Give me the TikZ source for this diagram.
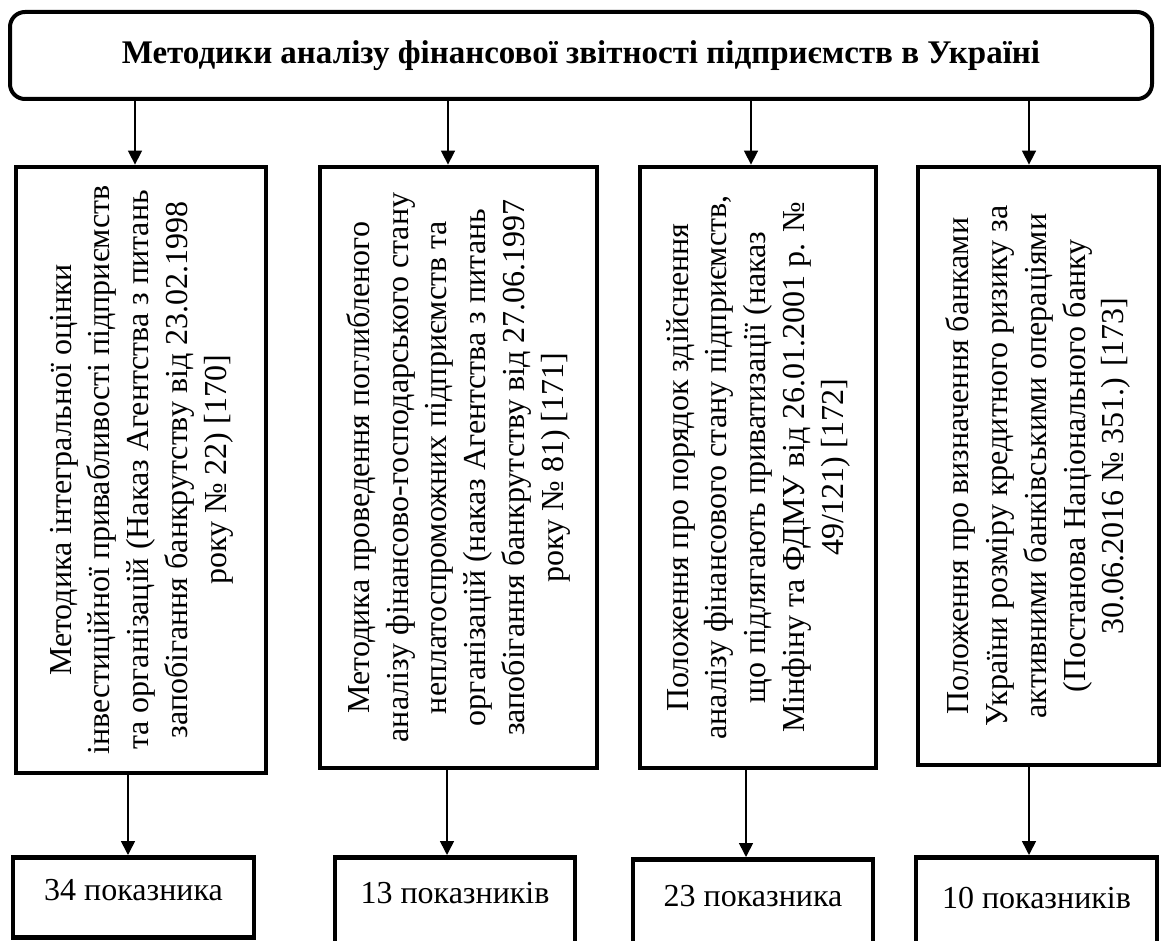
\documentclass[tikz,border=0pt]{standalone}
\usepackage{fontspec}
\setmainfont{Liberation Serif}
\usetikzlibrary{arrows.meta}

\tikzset{
  headbox/.style={draw, line width=2pt, rounded corners=7.5pt, inner sep=0pt,
    minimum width=571pt, minimum height=43.5pt,
    font=\fontsize{16.5}{19}\selectfont\bfseries},
  docbox/.style={draw, line width=2.4pt, inner sep=0pt,
    font=\fontsize{16}{19.4}\selectfont},
  countbox/.style={draw, line width=2.4pt, inner xsep=0pt, inner ysep=0pt,
    anchor=north, font=\fontsize{16}{18}\selectfont},
  arr/.style={line width=0.8pt, -{Triangle[length=7pt,width=7pt]}},
}

\newcommand{\vtext}[1]{\rotatebox{90}{\begin{tabular}{@{}c@{}}#1\end{tabular}}}

\begin{document}
\begin{tikzpicture}[x=0.5pt,y=-0.5pt]
  \clip (0,0) rectangle (1162,941);
  \fill[white] (0,0) rectangle (1162,941);

  % heading
  \node[headbox] (title) at (581,55.5)
    {Методики аналізу фінансової звітності підприємств в Україні};

  % regulatory documents
  \node[docbox, minimum width=125pt, minimum height=303pt] (m1) at (141,470)
    {\vtext{Методика інтегральної оцінки\\
      інвестиційної привабливості підприємств\\
      та організацій (Наказ Агентства з питань\\
      запобігання банкрутству від 23.02.1998\\
      року № 22) [170]}};
  \node[docbox, minimum width=138.5pt, minimum height=300.5pt] (m2) at (458.5,467.5)
    {\vtext{Методика проведення поглибленого\\
      аналізу фінансово-господарського стану\\
      неплатоспроможних підприємств та\\
      організацій (наказ Агентства з питань\\
      запобігання банкрутству від 27.06.1997\\
      року № 81) [171]}};
  \node[docbox, minimum width=118pt, minimum height=300.5pt] (m3) at (758,467.5)
    {\vtext{Положення про порядок здійснення\\
      аналізу фінансового стану підприємств,\\
      що підлягають приватизації (наказ\\
      Мінфіну та ФДМУ від 26.01.2001 р. №\\
      49/121) [172]}};
  \node[docbox, minimum width=120.5pt, minimum height=299pt] (m4) at (1038.5,466)
    {\vtext{Положення про визначення банками\\
      України розміру кредитного ризику за\\
      активними банківськими операціями\\
      (Постанова Національного банку\\
      30.06.2016 № 351.) [173]}};

  % number of indicators
  \node[countbox, minimum width=120.5pt, text height=21.5pt, text depth=18.5pt] (b1) at (133.5,855) {34 показника};
  \node[countbox, minimum width=120pt, text height=23pt, text depth=22pt] (b2) at (455,855) {13 показників};
  \node[countbox, minimum width=120pt, text height=23.5pt, text depth=21.5pt] (b3) at (753,857) {23 показника};
  \node[countbox, minimum width=120.5pt, text height=25.5pt, text depth=19.5pt] (b4) at (1036.5,855) {10 показників};

  % connector columns
  \coordinate (c1) at (135,0);
  \coordinate (c2) at (448,0);
  \coordinate (c3) at (751,0);
  \coordinate (c4) at (1029,0);
  \coordinate (d1) at (128,0);
  \coordinate (d2) at (447,0);
  \coordinate (d3) at (746,0);
  \coordinate (d4) at (1029,0);

  \draw[arr] (title.south -| c1) -- (m1.north -| c1);
  \draw[arr] (title.south -| c2) -- (m2.north -| c2);
  \draw[arr] (title.south -| c3) -- (m3.north -| c3);
  \draw[arr] (title.south -| c4) -- (m4.north -| c4);

  \draw[arr] (m1.south -| d1) -- (b1.north -| d1);
  \draw[arr] (m2.south -| d2) -- (b2.north -| d2);
  \draw[arr] (m3.south -| d3) -- (b3.north -| d3);
  \draw[arr] (m4.south -| d4) -- (b4.north -| d4);
\end{tikzpicture}
\end{document}
